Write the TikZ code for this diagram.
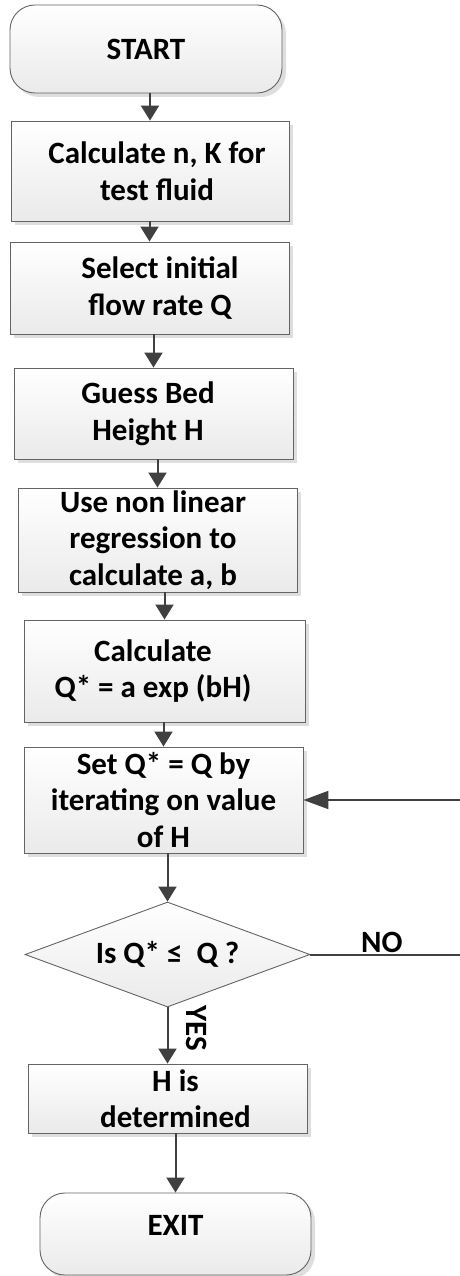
\documentclass[tikz,border=0pt]{standalone}
\usepackage{fontspec}
\setmainfont{Carlito}
\usetikzlibrary{arrows.meta,shapes.geometric,shadows}
\definecolor{edgegray}{RGB}{100,100,100}
\definecolor{arrowgray}{RGB}{64,64,64}
\definecolor{fillbottom}{RGB}{234,234,234}
\definecolor{shadowgray}{RGB}{222,222,222}

\begin{document}
\begin{tikzpicture}[x=1pt,y=-1pt,
  flowbox/.style={rectangle, draw=edgegray, line width=0.9pt,
    top color=white, bottom color=fillbottom, inner sep=0pt,
    drop shadow={shadow xshift=4pt, shadow yshift=-4pt, fill=shadowgray, opacity=1}},
  term/.style={flowbox, rounded corners=25pt},
  decision/.style={diamond, draw=edgegray, line width=0.9pt,
    top color=white, bottom color=fillbottom, inner sep=0pt},
  txt/.style={font=\fontsize{31}{36.5}\selectfont\bfseries, align=center, text=black},
  arr/.style={draw=arrowgray, line width=2pt, -{Triangle[width=18pt,length=15pt]}},
  longarr/.style={draw=arrowgray, line width=2pt, -{Triangle[width=18pt,length=25pt]}},
]
\useasboundingbox (0,0) rectangle (459,1276);

% process steps
\node[term, minimum width=272pt, minimum height=88pt,
  label={[txt]center:START}] (start) at (146,49) {};
\node[flowbox, minimum width=278pt, minimum height=100pt,
  label={[txt,xshift=7pt]center:{Calculate n, K for\\test fluid}}] (b2) at (150,171) {};
\node[flowbox, minimum width=279pt, minimum height=92pt,
  label={[txt,xshift=10.5pt]center:{Select initial\\flow rate Q}}] (b3) at (149.5,288) {};
\node[flowbox, minimum width=279pt, minimum height=91pt,
  label={[txt,xshift=-5.5pt]center:{Guess Bed\\Height H}}] (b4) at (153.5,413.5) {};
\node[flowbox, minimum width=279pt, minimum height=104pt,
  label={[txt,xshift=-4.5pt]center:{Use non linear\\regression to\\calculate a, b}}] (b5) at (157.5,540) {};
\node[flowbox, minimum width=281pt, minimum height=102pt,
  label={[txt,xshift=-11.5pt]center:{Calculate\\Q* = a exp (bH)}}] (b6) at (164.5,671) {};
\node[flowbox, minimum width=279pt, minimum height=106pt,
  label={[txt]center:{Set Q* = Q by\\iterating on value\\of H}}] (b7) at (163.5,800) {};
\node[decision, minimum width=285pt, minimum height=105pt,
  label={[txt]center:{Is Q*~≤~ Q ?}}] (dia) at (167.5,954.5) {};
\node[flowbox, minimum width=279pt, minimum height=69pt,
  label={[txt,xshift=8pt]center:{H is\\determined}}] (b8) at (167.5,1098.5) {};
\node[term, minimum width=271pt, minimum height=82pt,
  label={[txt,yshift=9pt]center:EXIT}] (exit) at (175.5,1234) {};

% connectors
\draw[arr] (start.south -| b2.north) -- (b2.north);
\draw[arr] (b2.south -| b3.north) -- (b3.north);
\draw[arr] (b3.south -| b4.north) -- (b4.north);
\draw[arr] (b4.south -| b5.north) -- (b5.north);
\draw[arr] (b5.south -| b6.north) -- (b6.north);
\draw[arr] (b6.south -| b7.north) -- (b7.north);
\draw[arr] (b7.south -| dia.north) -- (dia.north);
\draw[arr] (dia.south) -- node[txt, pos=0.37, xshift=29.5pt, rotate=-90] (yes) {YES} (b8.north);
\draw[arr] (b8.south -| exit.north) -- (exit.north);

% return loop for the NO branch
\coordinate (turn) at (470,0);
\draw[longarr] (dia.east) -- node[txt, pos=0.447, anchor=base, yshift=2pt] (no) {NO}
  (dia.east -| turn) |- (b7.east);
\end{tikzpicture}
\end{document}
